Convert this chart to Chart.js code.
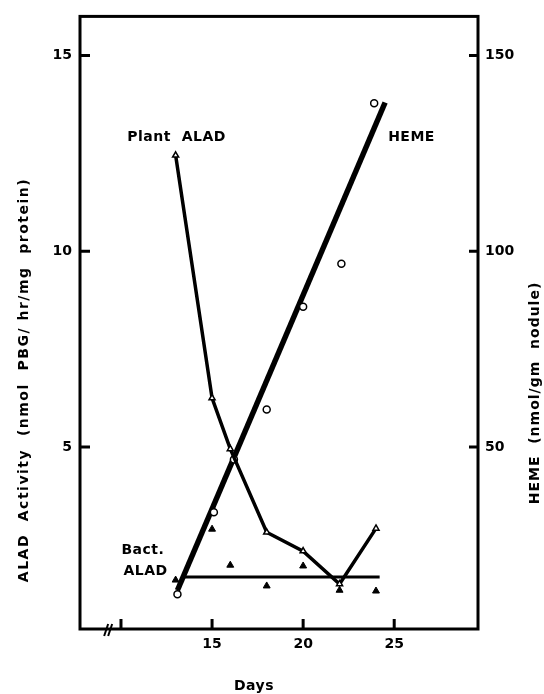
<!DOCTYPE html>
<html>
<head>
    <title>ALAD and heme</title>
    <script src="https://cdn.jsdelivr.net/npm/chart.js"></script>
    <style>
        html, body { margin: 0; padding: 0; background: #fff; }
        #wrap { width: 544px; height: 694px; }
    </style>
</head>
<body>

<div id="wrap"><canvas id="myChart" width="544" height="694"></canvas></div>

<script>
    // values
    const plantDays = [13, 15, 16, 18, 20, 22, 24];
    const plantAlad = [12.45, 6.25, 4.95, 2.82, 2.34, 1.5, 2.92];

    const bactDays = [13, 15, 16, 18, 20, 22, 24];
    const bactAlad = [1.6, 2.9, 1.98, 1.45, 1.96, 1.34, 1.32];
    const bactMeanDays = [13.3, 24.2];
    const bactMean = [1.68, 1.68];

    const hemeDays = [13.1, 15.1, 16.2, 18, 20, 22.1, 23.9];
    const heme = [12.4, 33.3, 46.8, 59.6, 85.8, 96.8, 137.8];
    const hemeFitDays = [13.1, 24.5];
    const hemeFit = [13.4, 138];

    const xTicks = [10, 15, 20, 25];
    const xTickLabels = ['', '15', '20', '25'];
    const leftTicks = [5, 10, 15];
    const rightTicks = [50, 100, 150];

    const FONT = '"DejaVu Sans", sans-serif';

    function pts(xs, ys) {
        return xs.map((x, i) => ({x: x, y: ys[i]}));
    }

    // box, inward ticks, axis break, titles and in-plot labels
    const decor = {
        id: 'decor',
        afterDraw(chart) {
            const ctx = chart.ctx;
            const a = chart.chartArea;
            const xs = chart.scales.x, yl = chart.scales.y, yr = chart.scales.y1;
            ctx.save();
            ctx.strokeStyle = '#000';
            ctx.lineWidth = 3;
            ctx.strokeRect(a.left, a.top, a.right - a.left, a.bottom - a.top);

            ctx.beginPath();
            xTicks.forEach(v => {
                const px = xs.getPixelForValue(v);
                ctx.moveTo(px, a.bottom);
                ctx.lineTo(px, a.bottom - 10);
            });
            leftTicks.forEach(v => {
                const py = yl.getPixelForValue(v);
                ctx.moveTo(a.left, py);
                ctx.lineTo(a.left + 10, py);
            });
            rightTicks.forEach(v => {
                const py = yr.getPixelForValue(v);
                ctx.moveTo(a.right, py);
                ctx.lineTo(a.right - 9, py);
            });
            ctx.stroke();

            // axis break marks
            ctx.lineWidth = 2;
            const bx = xs.getPixelForValue(9.35);
            ctx.beginPath();
            ctx.moveTo(bx - 5, a.bottom + 7);
            ctx.lineTo(bx - 1, a.bottom - 5);
            ctx.moveTo(bx - 1, a.bottom + 7);
            ctx.lineTo(bx + 3, a.bottom - 5);
            ctx.stroke();

            ctx.fillStyle = '#000';
            ctx.textAlign = 'center';
            ctx.textBaseline = 'middle';
            ctx.font = 'bold 14px ' + FONT;
            ctx.letterSpacing = '0.5px';
            ctx.fillText('Plant  ALAD', xs.getPixelForValue(13.05), yl.getPixelForValue(12.9));
            ctx.fillText('HEME', xs.getPixelForValue(25.95), yl.getPixelForValue(12.9));
            ctx.fillText('Bact.', xs.getPixelForValue(11.2), yl.getPixelForValue(2.36));
            ctx.fillText('ALAD', xs.getPixelForValue(11.35), yl.getPixelForValue(1.83));

            ctx.fillText('Days', 254, 686);

            ctx.save();
            ctx.letterSpacing = '1.5px';
            ctx.translate(24, 380);
            ctx.rotate(-Math.PI / 2);
            ctx.fillText('ALAD  Activity  (nmol  PBG/ hr/mg  protein)', 0, 0);
            ctx.restore();

            ctx.save();
            ctx.letterSpacing = '1px';
            ctx.translate(535, 393);
            ctx.rotate(-Math.PI / 2);
            ctx.fillText('HEME  (nmol/gm  nodule)', 0, 0);
            ctx.restore();

            ctx.restore();
        }
    };

    const ctx = document.getElementById('myChart').getContext('2d');
    const chart = new Chart(ctx, {
        type: 'scatter',
        data: {
            datasets: [
                {
                    label: 'Plant ALAD',
                    data: pts(plantDays, plantAlad),
                    showLine: true,
                    yAxisID: 'y',
                    borderColor: '#000',
                    borderWidth: 3.5,
                    pointStyle: 'triangle',
                    pointRadius: 3.5,
                    pointBorderWidth: 1.5,
                    pointBackgroundColor: '#fff',
                    pointBorderColor: '#000'
                },
                {
                    label: 'Heme',
                    data: pts(hemeDays, heme),
                    yAxisID: 'y1',
                    pointStyle: 'circle',
                    pointRadius: 3.5,
                    pointBorderWidth: 1.5,
                    pointBackgroundColor: '#fff',
                    pointBorderColor: '#000'
                },
                {
                    label: 'Bact. ALAD',
                    data: pts(bactDays, bactAlad),
                    yAxisID: 'y',
                    pointStyle: 'triangle',
                    pointRadius: 4,
                    pointBorderWidth: 1,
                    pointBackgroundColor: '#000',
                    pointBorderColor: '#000'
                },
                {
                    label: 'Bact. mean',
                    data: pts(bactMeanDays, bactMean),
                    showLine: true,
                    yAxisID: 'y',
                    borderColor: '#000',
                    borderWidth: 3,
                    pointRadius: 0
                },
                {
                    label: 'Heme fit',
                    data: pts(hemeFitDays, hemeFit),
                    showLine: true,
                    yAxisID: 'y1',
                    borderColor: '#000',
                    borderWidth: 5.5,
                    pointRadius: 0
                }
            ]
        },
        plugins: [decor],
        options: {
            responsive: false,
            animation: false,
            layout: { padding: { top: 15, left: 0, right: 0, bottom: 0 } },
            plugins: {
                legend: { display: false },
                tooltip: { enabled: false }
            },
            scales: {
                x: {
                    type: 'linear',
                    min: 7.75,
                    max: 29.6,
                    grid: { display: false, drawTicks: false },
                    border: { display: false },
                    afterBuildTicks: s => { s.ticks = xTicks.map(v => ({value: v})); },
                    afterFit: s => { s.height = 65; },
                    ticks: {
                        padding: 7,
                        color: '#000',
                        font: { family: FONT, size: 14, weight: 'bold' },
                        callback: (v) => xTickLabels[xTicks.indexOf(v)]
                    }
                },
                y: {
                    position: 'left',
                    min: 0.35,
                    max: 16,
                    grid: { display: false, drawTicks: false },
                    border: { display: false },
                    afterBuildTicks: s => { s.ticks = leftTicks.map(v => ({value: v})); },
                    afterFit: s => { s.width = 80; },
                    ticks: {
                        padding: 8,
                        color: '#000',
                        font: { family: FONT, size: 14, weight: 'bold' }
                    }
                },
                y1: {
                    position: 'right',
                    min: 3.5,
                    max: 160,
                    grid: { display: false, drawTicks: false },
                    border: { display: false },
                    afterBuildTicks: s => { s.ticks = rightTicks.map(v => ({value: v})); },
                    afterFit: s => { s.width = 66; },
                    ticks: {
                        padding: 7,
                        color: '#000',
                        font: { family: FONT, size: 14, weight: 'bold' }
                    }
                }
            }
        }
    });
</script>

</body>
</html>
